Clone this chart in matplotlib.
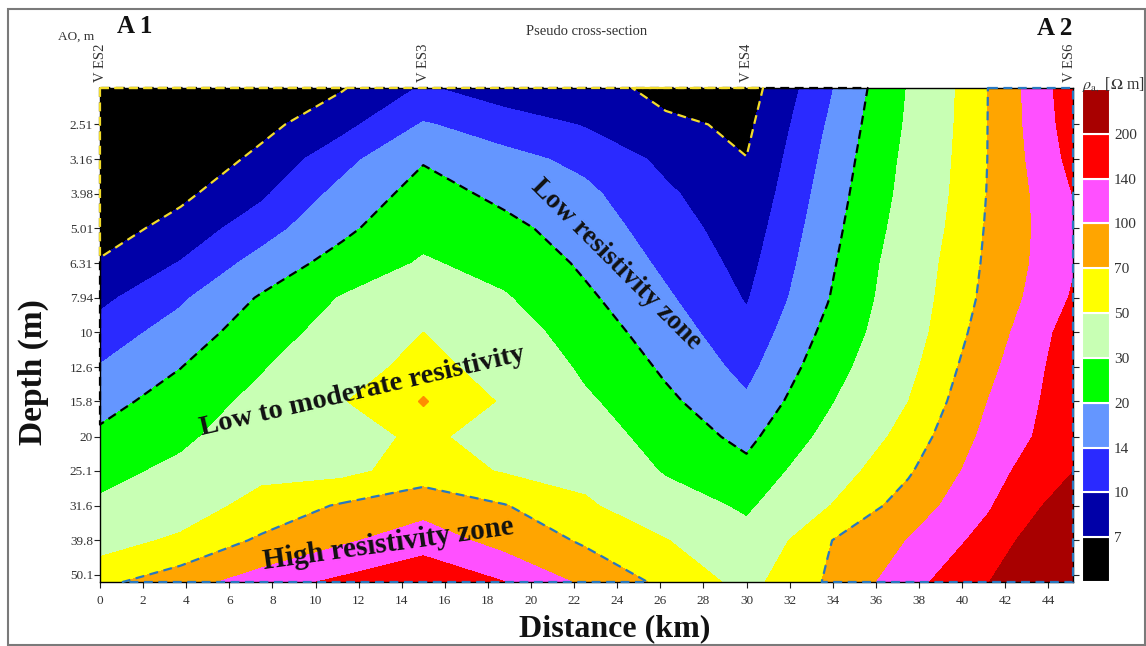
import numpy as np
import matplotlib
matplotlib.use("Agg")
import matplotlib.pyplot as plt
import matplotlib.transforms as mtransforms
from matplotlib.patches import Rectangle

plt.rcParams["font.family"] = ["Liberation Serif", "DejaVu Serif"]
plt.rcParams["mathtext.fontset"] = "stix"

# ---------------- data ----------------
distance_km = [0, 3.75, 7.5, 11.25, 15, 18.75, 22.5, 26.25, 30, 33.75, 37.5, 41.25, 45.15]
depth_m = [1.97, 2.51, 3.16, 3.98, 5.01, 6.31, 7.94, 10, 12.6, 15.8, 20, 25.1, 31.6, 39.8, 52.5]

# apparent resistivity (Ohm m): one row per depth, one column per distance
rho_apparent = [
    [2.24, 3.25, 5.05, 6.84, 10.4, 8.32, 8.32, 6.19, 5.96, 13.1, 30.6, 70.8, 173],
    [2.88, 4.14, 6.30, 9.04, 14.4, 12.0, 9.77, 7.60, 6.50, 14.3, 31.6, 71.0, 166],
    [3.65, 5.19, 7.74, 12.6, 19.5, 15.5, 12.9, 9.25, 7.05, 15.3, 33.1, 71.1, 155],
    [4.58, 6.47, 9.48, 15.7, 22.9, 18.5, 15.1, 10.6, 7.62, 16.3, 34.3, 71.8, 141],
    [5.79, 8.13, 12.2, 18.5, 26.6, 22.1, 16.9, 11.8, 8.28, 17.3, 36.3, 73.3, 135],
    [7.29, 10.2, 16.0, 23.2, 31.3, 26.1, 18.9, 13.1, 8.95, 18.4, 38.9, 75.0, 136],
    [9.23, 13.3, 20.8, 30.8, 39.5, 31.1, 21.4, 14.7, 9.73, 19.6, 40.3, 77.6, 145],
    [11.6, 16.4, 24.6, 36.0, 50.1, 37.3, 24.4, 16.7, 11.0, 22.0, 41.7, 84.1, 164],
    [14.3, 19.9, 29.0, 44.1, 54.8, 44.6, 27.8, 18.9, 12.6, 24.9, 45.2, 92.3, 171],
    [17.7, 23.5, 34.0, 49.4, 60.3, 48.9, 32.1, 21.6, 14.8, 28.4, 49.8, 101, 173],
    [21.5, 27.5, 39.4, 47.0, 51.5, 47.0, 37.7, 24.9, 18.1, 33.4, 57.4, 111, 174],
    [26.0, 33.4, 46.0, 45.7, 58.2, 48.8, 44.4, 28.8, 22.4, 40.5, 67.1, 123, 199],
    [32.4, 41.8, 56.5, 72.8, 89.3, 71.3, 53.1, 37.7, 27.9, 49.0, 82.0, 136, 249],
    [43.3, 53.2, 74.0, 95.3, 118, 88.5, 66.8, 50.8, 35.5, 68.4, 101, 159, 323],
    [64.6, 85.9, 119, 151, 195, 141, 93.5, 64.4, 44.7, 72.4, 123, 199, 398],
]

level_bounds = [7, 10, 14, 20, 30, 50, 70, 100, 140, 200]
zone_colors = ["#000000", "#0000A8", "#2A2AFF", "#6496FF", "#00FF00", "#C8FFB4",
               "#FFFF00", "#FFA500", "#FF50FF", "#FF0000", "#A80000"]

depth_ticks = [2.51, 3.16, 3.98, 5.01, 6.31, 7.94, 10, 12.6, 15.8, 20, 25.1, 31.6, 39.8, 50.1]
depth_tick_labels = ["2.51", "3.16", "3.98", "5.01", "6.31", "7.94", "10", "12.6",
                     "15.8", "20", "25.1", "31.6", "39.8", "50.1"]
distance_ticks = list(range(0, 45, 2))

ves_names = ["V ES2", "V ES3", "V ES4", "V ES6"]
ves_distance = [0, 15, 30, 45]
point_distance = [15]
point_depth = [15.8]

very_low_limit = 7     # yellow dashed outline
low_zone_limit = 20    # black dashed outline
high_zone_limit = 70   # blue dashed outline

# ---------------- figure ----------------
W, H = 1146, 646
fig = plt.figure(figsize=(W / 100, H / 100), dpi=100)


def fx(px):
    return px / W


def fy(py):
    return 1 - py / H


ax = fig.add_axes([fx(100), fy(582), fx(1073) - fx(100), fy(88) - fy(582)])
ax.set_yscale("log")

x = np.array(distance_km, dtype=float)
y = np.array(depth_m, dtype=float)
Z = np.log10(np.array(rho_apparent, dtype=float))
lv = np.log10(level_bounds)
levels = np.concatenate([[-1.0], lv, [4.0]])
ax.contourf(x, y, Z, levels=levels, colors=zone_colors, zorder=1)

# zone outlines (contours of padded grid so that they follow the frame)
xp = np.concatenate([[x[0] - 1e-3], x, [x[-1] + 1e-3]])
yp = np.concatenate([[y[0] * 0.9999], y, [y[-1] * 1.0001]])
dash = (0, (4, 2.5))


def outline(limit, pad, color, z):
    Zp = np.full((len(yp), len(xp)), pad, dtype=float)
    Zp[1:-1, 1:-1] = Z
    cs = ax.contour(xp, yp, Zp, levels=[np.log10(limit)])
    segs = cs.allsegs[0]
    cs.remove()
    for s in segs:
        ax.plot(s[:, 0], s[:, 1], color=color, lw=1.6, ls=dash,
                clip_on=False, zorder=z, solid_capstyle="butt")


outline(low_zone_limit, 10.0, "black", 3)
outline(very_low_limit, 10.0, "#F2DC2A", 4)
outline(high_zone_limit, -10.0, "#2878C0", 4)

# yellow dashes along the top up to the end of the second black zone
top = Z[0]
l7 = np.log10(very_low_limit)
below = np.where(top < l7)[0]
i = below[-1]
x_last = x[i] + (l7 - top[i]) / (top[i + 1] - top[i]) * (x[i + 1] - x[i])
ax.plot([x[0], x_last], [y[0], y[0]], color="#F2DC2A", lw=1.6, ls=dash,
        clip_on=False, zorder=5)

ax.plot(point_distance, point_depth, ls="none", marker="D", ms=5,
        color="#FF8C00", zorder=5)

ax.set_xlim(x[0], x[-1])
ax.set_ylim(y[-1], y[0])
ax.set_yticks(depth_ticks)
ax.set_yticklabels(depth_tick_labels)
ax.yaxis.set_minor_locator(plt.NullLocator())
ax.set_xticks(distance_ticks)
ax.tick_params(axis="both", direction="out", length=4, width=0.8,
               colors="#222222", labelcolor="#333333", labelsize=9.5)
ax.tick_params(axis="y", right=True, pad=1)
ax.tick_params(axis="x", pad=5)
for s in ax.spines.values():
    s.set_linewidth(1.0)
    s.set_zorder(2)

# VES labels on top
btrans = mtransforms.blended_transform_factory(ax.transData, ax.transAxes)
vtrans = mtransforms.offset_copy(btrans, fig=fig, x=0, y=6, units="dots")
for name, xv in zip(ves_names, ves_distance):
    ax.text(xv, 1.0, name, transform=vtrans, rotation=90, ha="center",
            va="bottom", fontsize=10.5, color="#333333")

# zone labels
ax.text(0.530, 0.642, "Low resistivity zone", transform=ax.transAxes,
        rotation=-45, ha="center", va="center", rotation_mode="anchor",
        fontsize=19.5, fontweight="bold", color="#111111", zorder=6)
ax.text(0.270, 0.385, "Low to moderate resistivity", transform=ax.transAxes,
        rotation=13, ha="center", va="center", rotation_mode="anchor",
        fontsize=20.5, fontweight="bold", color="#111111", zorder=6)
ax.text(0.296, 0.077, "High resistivity zone", transform=ax.transAxes,
        rotation=8, ha="center", va="center", rotation_mode="anchor",
        fontsize=21, fontweight="bold", color="#111111", zorder=6)

# colour bar
cax = fig.add_axes([fx(1082), fy(582), fx(1110) - fx(1082), fy(89) - fy(582)])
for k, c in enumerate(zone_colors):
    cax.add_patch(Rectangle((0, k), 1, 1, facecolor=c, edgecolor="white", lw=1.5))
cax.set_xlim(0, 1)
cax.set_ylim(0, len(zone_colors))
cax.set_xticks([])
cax.yaxis.tick_right()
cax.set_yticks(range(1, len(zone_colors)))
cax.set_yticklabels([str(b) for b in level_bounds])
cax.tick_params(axis="y", length=0, pad=3, labelsize=11, labelcolor="#333333")
for s in cax.spines.values():
    s.set_visible(False)

fig.text(fx(1082), fy(88), r"$\rho_{\mathrm{a,}}$ [$\Omega$ m]", ha="left",
         va="baseline", fontsize=11.5, color="#333333")

# titles and axis labels
fig.text(fx(94), fy(40), "AO, m", ha="right", va="baseline", fontsize=9.5, color="#333333")
fig.text(fx(587), fy(35), "Pseudo cross-section", ha="center", va="baseline",
         fontsize=10.5, color="#333333")
fig.text(fx(117), fy(33), "A 1", ha="left", va="baseline", fontsize=18,
         fontweight="bold", color="#111111")
fig.text(fx(1037), fy(35), "A 2", ha="left", va="baseline", fontsize=18,
         fontweight="bold", color="#111111")
fig.text(fx(33), fy(372), "Depth (m)", rotation=90, ha="center", va="center",
         fontsize=24, fontweight="bold", color="#111111")
fig.text(fx(615), fy(636), "Distance (km)", ha="center", va="baseline",
         fontsize=23, fontweight="bold", color="#111111")

# outer frame
fig.add_artist(Rectangle((fx(8), fy(645)), fx(1145) - fx(8), fy(9) - fy(645),
                         transform=fig.transFigure, fill=False,
                         edgecolor="#7A7A7A", lw=1.5))

fig.savefig("out.png", dpi=100)
